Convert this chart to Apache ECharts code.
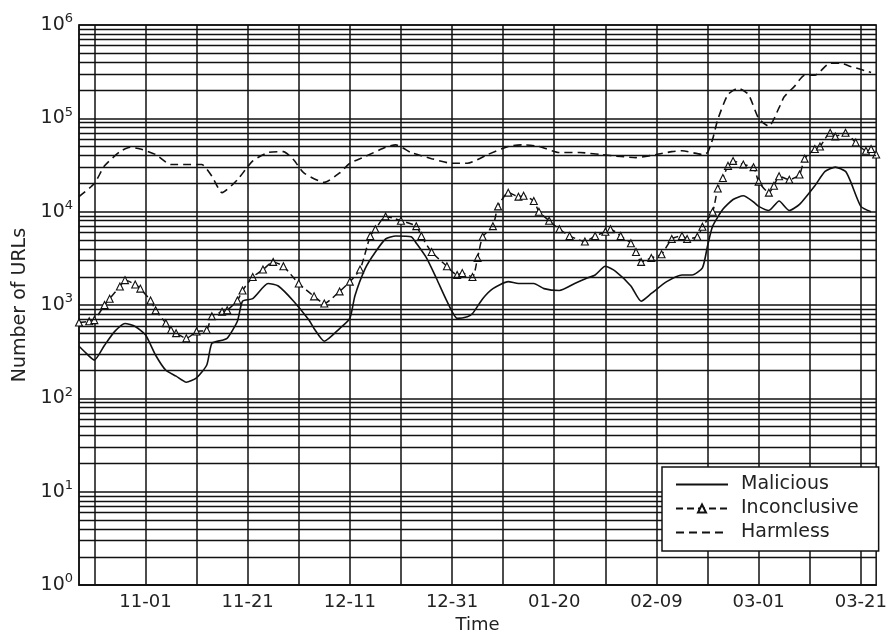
<!DOCTYPE html>
<html><head><meta charset="utf-8">
<script src="https://cdn.jsdelivr.net/npm/echarts/dist/echarts.min.js"></script>
<style>html,body{margin:0;padding:0;background:#fff}#c{width:890px;height:639px}</style>
</head><body><div id="c"></div><script>
// ---- data ----
const startDate = '2013-10-19';
const endDate = '2014-03-24';
const xTickLabels = ['11-01','11-21','12-11','12-31','01-20','02-09','03-01','03-21'];
const yExponents = [0,1,2,3,4,5,6];

const maliciousData = [
['10-19',362],['10-20',320],['10-22',257],['10-24',371],['10-26',522],['10-28',635],['10-30',590],['11-01',480],
['11-03',290],['11-05',200],['11-07',173],['11-09',149],['11-11',166],['11-13',228],['11-14',389],['11-16',420],
['11-17',440],['11-19',670],['11-20',1100],['11-22',1170],['11-25',1700],['11-27',1600],['11-30',1100],['12-03',690],
['12-04',560],['12-06',410],['12-09',560],['12-11',720],['12-12',1260],['12-14',2460],['12-16',3700],['12-18',5100],
['12-20',5500],['12-23',5400],['12-24',4600],['12-26',3200],['12-28',1900],['12-30',1100],['01-01',720],['01-03',750],
['01-04',810],['01-06',1170],['01-08',1500],['01-11',1780],['01-13',1700],['01-16',1700],['01-18',1500],['01-21',1430],
['01-24',1700],['01-26',1900],['01-28',2100],['01-30',2600],['02-01',2300],['02-04',1600],['02-06',1100],['02-08',1330],
['02-11',1780],['02-14',2100],['02-16',2100],['02-18',2500],['02-19',4300],['02-20',7000],['02-22',10600],['02-24',13500],
['02-26',14800],['02-28',12700],['03-01',11400],['03-03',10300],['03-05',13000],['03-07',10300],['03-09',12000],['03-12',19000],
['03-14',27000],['03-16',30000],['03-18',27000],['03-19',21000],['03-21',11400],['03-23',10000]
];

const inconclusiveData = [
['10-19',650],['10-21',670],['10-22',690],['10-24',1000],['10-25',1170],['10-27',1580],['10-28',1850],['10-30',1660],
['10-31',1500],['11-02',1120],['11-03',880],['11-05',640],['11-06',540],['11-07',500],['11-09',440],['11-11',520],
['11-13',540],['11-14',760],['11-16',850],['11-17',880],['11-19',1120],['11-20',1430],['11-22',2000],['11-24',2400],
['11-26',2900],['11-28',2600],['12-01',1700],['12-04',1240],['12-06',1040],['12-09',1400],['12-11',1780],['12-13',2400],
['12-15',5500],['12-16',6500],['12-18',8900],['12-21',8000],['12-24',7000],['12-25',5500],['12-27',3700],['12-30',2600],
['01-01',2100],['01-02',2200],['01-04',2000],['01-05',3200],['01-06',5400],['01-08',7000],['01-09',11400],['01-11',16000],
['01-13',14500],['01-14',14800],['01-16',13000],['01-17',10000],['01-19',8000],['01-21',6500],['01-23',5500],['01-26',4800],
['01-28',5500],['01-30',6100],['01-31',6500],['02-02',5500],['02-04',4600],['02-05',3700],['02-06',2900],['02-08',3200],
['02-10',3500],['02-12',5100],['02-14',5500],['02-15',5100],['02-17',5400],['02-18',6900],['02-20',10000],['02-21',17700],
['02-22',23000],['02-23',31000],['02-24',35000],['02-26',32000],['02-28',30000],['03-01',21000],['03-03',16000],['03-04',19000],
['03-05',24000],['03-07',22000],['03-09',25000],['03-10',37000],['03-12',47000],['03-13',50000],['03-15',70000],['03-16',64000],
['03-18',70000],['03-20',55000],['03-22',45000],['03-23',47000],['03-24',41000]
];

const harmlessData = [
['10-19',14500],['10-22',20000],['10-24',31000],['10-27',44000],['10-29',49000],['10-31',47000],['11-03',41000],['11-06',32000],
['11-09',32000],['11-12',32000],['11-14',24000],['11-16',16000],['11-19',22000],['11-22',35000],['11-25',43000],['11-28',44000],
['11-30',36000],['12-02',26000],['12-06',20600],['12-09',26000],['12-11',33000],['12-14',39000],['12-18',49000],['12-20',52000],
['12-23',43000],['12-27',37000],['12-31',33000],['01-03',33000],['01-07',41000],['01-11',50000],['01-14',52000],['01-17',50000],
['01-21',43000],['01-25',43000],['01-29',41000],['02-02',39000],['02-05',38000],['02-09',41000],['02-12',44000],['02-14',45000],
['02-18',41000],['02-19',43000],['02-20',60000],['02-21',97000],['02-23',180000],['02-25',210000],['02-27',180000],['03-01',100000],
['03-03',82000],['03-05',130000],['03-06',170000],['03-08',220000],['03-10',290000],['03-12',290000],['03-15',390000],['03-17',390000],
['03-19',360000],['03-23',310000]
];

// ---- category days ----
const days = [];
(function(){
  const d = new Date(startDate + 'T00:00:00Z');
  const e = new Date(endDate + 'T00:00:00Z');
  while (d <= e) {
    const mm = String(d.getUTCMonth()+1).padStart(2,'0');
    const dd = String(d.getUTCDate()).padStart(2,'0');
    days.push(mm + '-' + dd);
    d.setUTCDate(d.getUTCDate()+1);
  }
})();

// minor log grid values 2..9 x 10^k
const minorGrid = [];
for (let k = 0; k < 6; k++) for (let m = 2; m <= 9; m++) minorGrid.push(m * Math.pow(10, k));

const FONT = 'DejaVu Sans';
const INK = '#111';

const chart = echarts.init(document.getElementById('c'), null, {renderer:'canvas'});
chart.setOption({
  animation: false,
  backgroundColor: '#fff',
  textStyle: {fontFamily: FONT},
  grid: {left: 79, right: 11, top: 25, bottom: 51, show: true, borderColor: INK, borderWidth: 1.5, backgroundColor: 'transparent'},
  legend: {
    show: true, orient: 'vertical', left: 662, top: 467, z: 20,
    backgroundColor: '#fff', borderColor: INK, borderWidth: 1.5, borderRadius: 0,
    padding: [8, 20, 9, 13], itemWidth: 52, itemHeight: 10, itemGap: 5,
    textStyle: {fontFamily: FONT, fontSize: 19, color: '#222', lineHeight: 18, padding: [0,0,0,8]},
    data: [
      {name: 'Malicious', itemStyle: {opacity: 0}},
      {name: 'Inconclusive'},
      {name: 'Harmless', itemStyle: {opacity: 0}}
    ]
  },
  xAxis: {
    type: 'category', data: days, boundaryGap: false,
    axisLine: {show: true, lineStyle: {color: INK, width: 1.5}},
    axisTick: {show: false},
    axisLabel: {interval: (i, v) => xTickLabels.includes(v), margin: 8, fontSize: 18, color: '#222', fontFamily: FONT},
    splitLine: {show: true, interval: (i) => (i - 3) % 10 === 0, lineStyle: {color: INK, width: 1.5}},
    name: 'Time', nameLocation: 'middle', nameGap: 30,
    nameTextStyle: {fontSize: 18, color: '#222', fontFamily: FONT}
  },
  yAxis: {
    type: 'log', logBase: 10, min: 1, max: 1e6,
    axisLine: {show: true, lineStyle: {color: INK, width: 1.5}},
    axisTick: {show: false},
    splitLine: {show: true, lineStyle: {color: INK, width: 1.5}},
    axisLabel: {
      margin: 6,
      formatter: (v) => {
        const e = Math.round(Math.log10(v));
        return yExponents.includes(e) ? '{b|10}{s|' + e + '}' : '';
      },
      rich: {
        b: {fontSize: 19, color: '#222', fontFamily: FONT},
        s: {fontSize: 13, color: '#222', fontFamily: FONT, padding: [0, 0, 12, 0]}
      }
    },
    name: 'Number of URLs', nameLocation: 'middle', nameGap: 49, nameRotate: 90,
    nameTextStyle: {fontSize: 19, color: '#222', fontFamily: FONT}
  },
  series: [
    {
      name: 'Malicious', type: 'line', data: maliciousData, symbol: 'none', smooth: 0.2,
      lineStyle: {color: INK, width: 1.6, type: 'solid'}, itemStyle: {color: INK},
      emphasis: {disabled: true}, z: 2,
      markLine: {
        silent: true, symbol: 'none', label: {show: false}, animation: false,
        lineStyle: {color: INK, width: 1.3, type: 'solid'},
        emphasis: {disabled: true},
        data: minorGrid.map(v => ({yAxis: v}))
      }
    },
    {
      name: 'Inconclusive', type: 'line', data: inconclusiveData, symbol: 'triangle', symbolSize: 7,
      showSymbol: true, showAllSymbol: true, smooth: 0.2,
      lineStyle: {color: INK, width: 1.5, type: [7, 4]},
      itemStyle: {color: '#fff', borderColor: INK, borderWidth: 1.1},
      emphasis: {disabled: true}, z: 2
    },
    {
      name: 'Harmless', type: 'line', data: harmlessData, symbol: 'none', smooth: 0.2,
      lineStyle: {color: INK, width: 1.6, type: [8, 5]}, itemStyle: {color: INK},
      emphasis: {disabled: true}, z: 2
    }
  ]
});
</script></body></html>
